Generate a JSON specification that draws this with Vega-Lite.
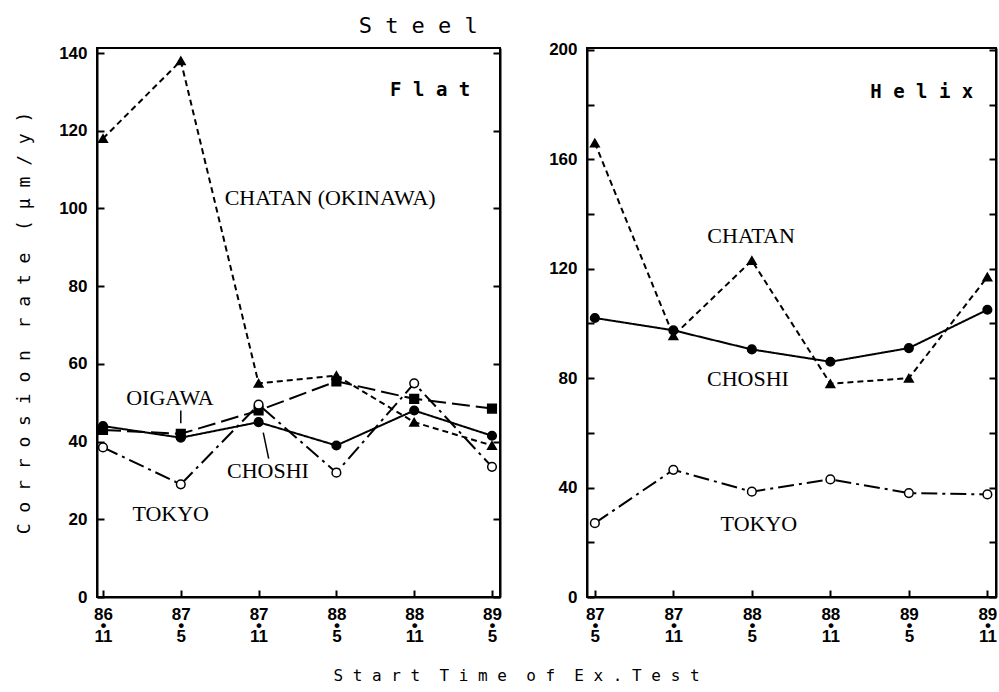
{
  "$schema": "https://vega.github.io/schema/vega-lite/v6.json",
  "background": "white",
  "padding": {"left": 14, "top": 14, "right": 0, "bottom": 0},
  "bounds": "flush",
  "spacing": 87,
  "title": {"text": "S t e e l", "font": "DejaVu Sans Mono", "fontSize": 22, "fontWeight": "normal", "color": "black", "anchor": "start", "dx": 344, "offset": 2},
  "config": {
    "view": {"stroke": "black", "strokeWidth": 2},
    "axis": {
      "domainColor": "black", "domainWidth": 2,
      "tickColor": "black", "tickWidth": 2, "tickSize": -7,
      "labelFont": "Liberation Sans", "labelFontSize": 17,
      "labelFontWeight": "bold", "labelColor": "black", "labelFlush": false,
      "labelOverlap": false, "grid": false, "titleColor": "black"
    },
    "axisX": {"labelPadding": 16},
    "axisY": {"labelPadding": 17}
  },
  "datasets": {
    "flat": [
      {"site": "CHATAN", "i": 0, "v": 118}, {"site": "CHATAN", "i": 1, "v": 138},
      {"site": "CHATAN", "i": 2, "v": 55}, {"site": "CHATAN", "i": 3, "v": 57},
      {"site": "CHATAN", "i": 4, "v": 45}, {"site": "CHATAN", "i": 5, "v": 39},
      {"site": "OIGAWA", "i": 0, "v": 43}, {"site": "OIGAWA", "i": 1, "v": 42},
      {"site": "OIGAWA", "i": 2, "v": 48}, {"site": "OIGAWA", "i": 3, "v": 55.5},
      {"site": "OIGAWA", "i": 4, "v": 51}, {"site": "OIGAWA", "i": 5, "v": 48.5},
      {"site": "CHOSHI", "i": 0, "v": 44}, {"site": "CHOSHI", "i": 1, "v": 41},
      {"site": "CHOSHI", "i": 2, "v": 45}, {"site": "CHOSHI", "i": 3, "v": 39},
      {"site": "CHOSHI", "i": 4, "v": 48}, {"site": "CHOSHI", "i": 5, "v": 41.5},
      {"site": "TOKYO", "i": 0, "v": 38.5}, {"site": "TOKYO", "i": 1, "v": 29},
      {"site": "TOKYO", "i": 2, "v": 49.5}, {"site": "TOKYO", "i": 3, "v": 32},
      {"site": "TOKYO", "i": 4, "v": 55}, {"site": "TOKYO", "i": 5, "v": 33.5}
    ],
    "helix": [
      {"site": "CHATAN", "i": 0, "v": 166}, {"site": "CHATAN", "i": 1, "v": 95.5},
      {"site": "CHATAN", "i": 2, "v": 123}, {"site": "CHATAN", "i": 3, "v": 78},
      {"site": "CHATAN", "i": 4, "v": 80}, {"site": "CHATAN", "i": 5, "v": 117},
      {"site": "CHOSHI", "i": 0, "v": 102}, {"site": "CHOSHI", "i": 1, "v": 97.5},
      {"site": "CHOSHI", "i": 2, "v": 90.5}, {"site": "CHOSHI", "i": 3, "v": 86},
      {"site": "CHOSHI", "i": 4, "v": 91}, {"site": "CHOSHI", "i": 5, "v": 105},
      {"site": "TOKYO", "i": 0, "v": 27}, {"site": "TOKYO", "i": 1, "v": 46.5},
      {"site": "TOKYO", "i": 2, "v": 38.5}, {"site": "TOKYO", "i": 3, "v": 43},
      {"site": "TOKYO", "i": 4, "v": 38}, {"site": "TOKYO", "i": 5, "v": 37.5}
    ],
    "flatLabels": [
      {"t": "CHATAN (OKINAWA)", "i": 2.92, "v": 102.8},
      {"t": "OIGAWA", "i": 0.86, "v": 51.3},
      {"t": "CHOSHI", "i": 2.12, "v": 32.5},
      {"t": "TOKYO", "i": 0.87, "v": 21.4}
    ],
    "flatLeaders": [
      {"i": 1.0, "v": 44.7, "i2": 1.0, "v2": 48},
      {"i": 2.06, "v": 42.3, "i2": 2.13, "v2": 35.6}
    ],
    "helixLabels": [
      {"t": "CHATAN", "i": 1.99, "v": 132},
      {"t": "CHOSHI", "i": 1.95, "v": 79.8},
      {"t": "TOKYO", "i": 2.09, "v": 26.6}
    ],
    "flatTag": [{"t": "F l a t", "i": 4.72, "v": 130.4}],
    "helixTag": [{"t": "H e l i x", "i": 4.82, "v": 184.6}]
  },
  "hconcat": [
    {
      "width": 403,
      "height": 549,
      "resolve": {"axis": {"y": "independent"}},
      "layer": [
        {
          "data": {"name": "flat"},
          "mark": {"type": "line", "color": "black", "strokeWidth": 2},
          "encoding": {
            "x": {"field": "i", "type": "quantitative", "scale": {"domain": [-0.077, 5.103], "nice": false, "zero": false},
              "axis": {"values": [0, 1, 2, 3, 4, 5],
                "labelExpr": "[['86','•','11'],['87','•','5'],['87','•','11'],['88','•','5'],['88','•','11'],['89','•','5']][datum.value]",
                "labelLineHeight": 11,
                "title": "S t a r t\u00a0 T i m e\u00a0 o f\u00a0 E x . T e s t",
                "titleFont": "DejaVu Sans Mono", "titleFontSize": 16, "titleFontWeight": "normal",
                "titleX": 419, "titlePadding": 23}},
            "y": {"field": "v", "type": "quantitative", "scale": {"domain": [0, 141.3], "nice": false},
              "axis": {"values": [0, 20, 40, 60, 80, 100, 120, 140],
                "title": "C o r r o s i o n\u00a0 r a t e\u00a0 ( μ m / y )",
                "titleFont": "DejaVu Sans Mono", "titleFontSize": 18, "titleFontWeight": "normal", "titlePadding": 25}},
            "detail": {"field": "site"},
            "strokeDash": {"field": "site", "type": "nominal",
              "scale": {"domain": ["CHATAN", "OIGAWA", "CHOSHI", "TOKYO"], "range": [[6, 4], [18, 6], [1, 0], [16, 5, 3, 5]]},
              "legend": null}
          }
        },
        {
          "data": {"name": "flat"},
          "mark": {"type": "point", "filled": true, "size": 75, "stroke": "black", "strokeWidth": 1.5, "opacity": 1},
          "encoding": {
            "x": {"field": "i", "type": "quantitative", "scale": {"domain": [-0.077, 5.103], "nice": false, "zero": false}},
            "y": {"field": "v", "type": "quantitative", "scale": {"domain": [0, 141.3], "nice": false},
              "axis": {"orient": "right", "values": [0, 20, 40, 60, 80, 100, 120, 140], "labels": false, "title": null}},
            "shape": {"field": "site", "type": "nominal",
              "scale": {"domain": ["CHATAN", "OIGAWA", "CHOSHI", "TOKYO"], "range": ["triangle-up", "square", "circle", "circle"]},
              "legend": null},
            "fill": {"field": "site", "type": "nominal",
              "scale": {"domain": ["CHATAN", "OIGAWA", "CHOSHI", "TOKYO"], "range": ["black", "black", "black", "white"]},
              "legend": null}
          }
        },
        {
          "data": {"name": "flatLeaders"},
          "mark": {"type": "rule", "color": "black", "strokeWidth": 1.5},
          "encoding": {
            "x": {"field": "i", "type": "quantitative", "scale": {"domain": [-0.077, 5.103], "nice": false, "zero": false}},
            "y": {"field": "v", "type": "quantitative", "scale": {"domain": [0, 141.3], "nice": false}, "axis": null},
            "x2": {"field": "i2"},
            "y2": {"field": "v2"}
          }
        },
        {
          "data": {"name": "flatLabels"},
          "mark": {"type": "text", "font": "Liberation Serif", "fontSize": 22, "color": "black", "align": "center", "baseline": "middle"},
          "encoding": {
            "x": {"field": "i", "type": "quantitative", "scale": {"domain": [-0.077, 5.103], "nice": false, "zero": false}},
            "y": {"field": "v", "type": "quantitative", "scale": {"domain": [0, 141.3], "nice": false}, "axis": null},
            "text": {"field": "t"}
          }
        },
        {
          "data": {"name": "flatTag"},
          "mark": {"type": "text", "font": "DejaVu Sans Mono", "fontSize": 19, "fontWeight": "bold", "color": "black", "align": "right", "baseline": "middle"},
          "encoding": {
            "x": {"field": "i", "type": "quantitative", "scale": {"domain": [-0.077, 5.103], "nice": false, "zero": false}},
            "y": {"field": "v", "type": "quantitative", "scale": {"domain": [0, 141.3], "nice": false}, "axis": null},
            "text": {"field": "t"}
          }
        }
      ]
    },
    {
      "width": 409,
      "height": 549,
      "resolve": {"axis": {"y": "independent"}},
      "layer": [
        {
          "data": {"name": "helix"},
          "mark": {"type": "line", "color": "black", "strokeWidth": 2},
          "encoding": {
            "x": {"field": "i", "type": "quantitative", "scale": {"domain": [-0.1, 5.11], "nice": false, "zero": false},
              "axis": {"values": [0, 1, 2, 3, 4, 5],
                "labelExpr": "[['87','•','5'],['87','•','11'],['88','•','5'],['88','•','11'],['89','•','5'],['89','•','11']][datum.value]",
                "labelLineHeight": 11, "title": null}},
            "y": {"field": "v", "type": "quantitative", "scale": {"domain": [0, 200.7], "nice": false},
              "axis": {"values": [0, 20, 40, 60, 80, 100, 120, 140, 160, 180, 200],
                "labelExpr": "datum.value % 40 == 0 ? datum.label : ''", "title": null}},
            "detail": {"field": "site"},
            "strokeDash": {"field": "site", "type": "nominal",
              "scale": {"domain": ["CHATAN", "CHOSHI", "TOKYO"], "range": [[6, 4], [1, 0], [14, 6, 3, 6]]},
              "legend": null}
          }
        },
        {
          "data": {"name": "helix"},
          "mark": {"type": "point", "filled": true, "size": 75, "stroke": "black", "strokeWidth": 1.5, "opacity": 1},
          "encoding": {
            "x": {"field": "i", "type": "quantitative", "scale": {"domain": [-0.1, 5.11], "nice": false, "zero": false}},
            "y": {"field": "v", "type": "quantitative", "scale": {"domain": [0, 200.7], "nice": false},
              "axis": {"orient": "right", "values": [0, 20, 40, 60, 80, 100, 120, 140, 160, 180, 200], "labels": false, "title": null}},
            "shape": {"field": "site", "type": "nominal",
              "scale": {"domain": ["CHATAN", "CHOSHI", "TOKYO"], "range": ["triangle-up", "circle", "circle"]},
              "legend": null},
            "fill": {"field": "site", "type": "nominal",
              "scale": {"domain": ["CHATAN", "CHOSHI", "TOKYO"], "range": ["black", "black", "white"]},
              "legend": null}
          }
        },
        {
          "data": {"name": "helixLabels"},
          "mark": {"type": "text", "font": "Liberation Serif", "fontSize": 22, "color": "black", "align": "center", "baseline": "middle"},
          "encoding": {
            "x": {"field": "i", "type": "quantitative", "scale": {"domain": [-0.1, 5.11], "nice": false, "zero": false}},
            "y": {"field": "v", "type": "quantitative", "scale": {"domain": [0, 200.7], "nice": false}, "axis": null},
            "text": {"field": "t"}
          }
        },
        {
          "data": {"name": "helixTag"},
          "mark": {"type": "text", "font": "DejaVu Sans Mono", "fontSize": 19, "fontWeight": "bold", "color": "black", "align": "right", "baseline": "middle"},
          "encoding": {
            "x": {"field": "i", "type": "quantitative", "scale": {"domain": [-0.1, 5.11], "nice": false, "zero": false}},
            "y": {"field": "v", "type": "quantitative", "scale": {"domain": [0, 200.7], "nice": false}, "axis": null},
            "text": {"field": "t"}
          }
        }
      ]
    }
  ]
}
